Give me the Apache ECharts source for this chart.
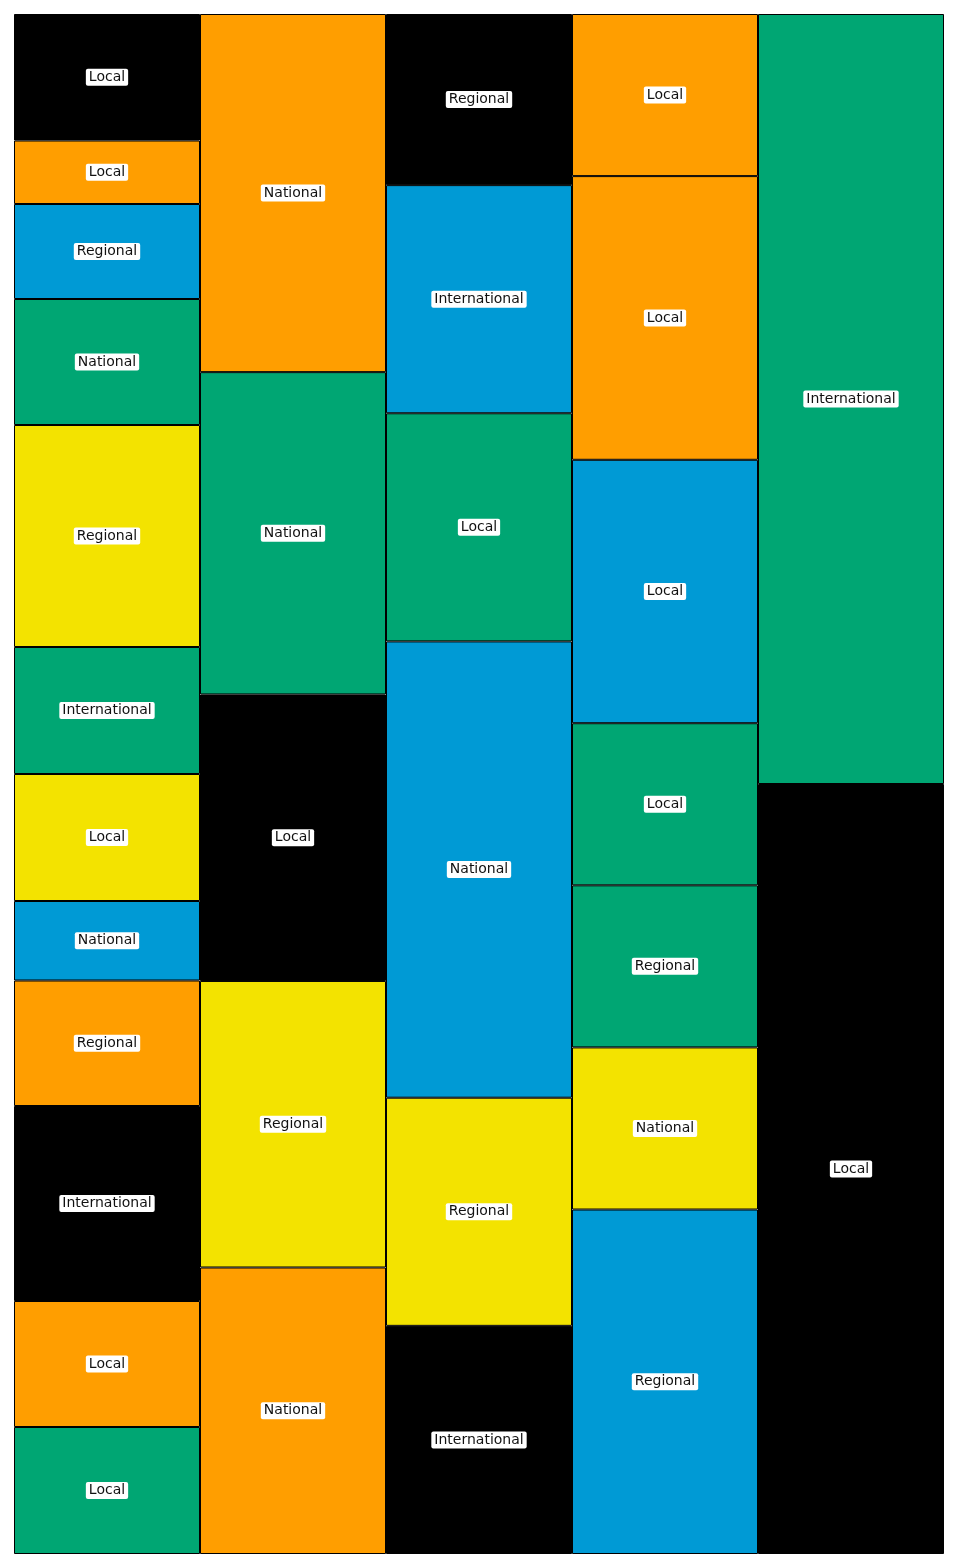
<!DOCTYPE html>
<html><head><meta charset="utf-8">
<script src="https://cdn.jsdelivr.net/npm/echarts@6/dist/echarts.min.js"></script>
<style>html,body{margin:0;padding:0;background:#fff}#c{width:957px;height:1567px}</style>
</head><body><div id="c"></div>
<script>
const categories = ['A', 'B', 'C', 'D', 'E'];
// segment values (top to bottom) per column
const col1Values = [126.5, 63.5, 95, 126, 222, 127, 127, 79.5, 125.5, 195, 126, 127];
const col2Values = [10, 9, 8, 8, 8];
const col3Values = [3, 4, 4, 8, 4, 4];
const col4Values = [8, 14, 13, 8, 8, 8, 17];
const col5Values = [1, 1];
const col1Labels = ['Local','Local','Regional','National','Regional','International','Local','National','Regional','International','Local','Local'];
const col2Labels = ['National','National','Local','Regional','National'];
const col3Labels = ['Regional','International','Local','National','Regional','International'];
const col4Labels = ['Local','Local','Local','Local','Regional','National','Regional'];
const col5Labels = ['International','Local'];
const col1Colors = ['k','o','b','g','y','g','y','b','o','k','o','g'];
const col2Colors = ['o','g','k','y','o'];
const col3Colors = ['k','b','g','b','y','k'];
const col4Colors = ['o','o','b','g','g','y','b'];
const col5Colors = ['g','k'];

const palette = {k:'#000000', o:'#FF9E00', b:'#009AD5', g:'#00A673', y:'#F3E300'};
const cols = [
  [col1Values, col1Labels, col1Colors],
  [col2Values, col2Labels, col2Colors],
  [col3Values, col3Labels, col3Colors],
  [col4Values, col4Labels, col4Colors],
  [col5Values, col5Labels, col5Colors]
];
const maxSeg = Math.max(...cols.map(c => c[0].length));
const series = [];
for (let s = 0; s < maxSeg; s++) {
  const data = cols.map(([vals, labs, cls]) => {
    if (s >= vals.length) return {value: 0, label: {show: false}, itemStyle: {borderWidth: 0}};
    const tot = vals.reduce((a, b) => a + b, 0);
    return {
      value: vals[s] / tot,
      name: labs[s],
      itemStyle: {color: palette[cls[s]]}
    };
  });
  series.push({
    type: 'bar', stack: 'all', barWidth: '100%', data,
    itemStyle: {borderColor: '#000', borderWidth: 1},
    label: {
      show: true, position: 'inside', formatter: p => p.data.name,
      color: '#111', fontFamily: 'DejaVu Sans', fontSize: 14, lineHeight: 15,
      backgroundColor: '#fff', padding: [1, 3, 1, 3], borderRadius: 2
    },
    emphasis: {disabled: true}, animation: false
  });
}
const chart = echarts.init(document.getElementById('c'));
chart.setOption({
  animation: false,
  grid: {left: 14, top: 14, width: 930, height: 1540},
  xAxis: {type: 'category', data: categories, show: false, boundaryGap: true},
  yAxis: {type: 'value', min: 0, max: 1, inverse: true, show: false},
  series
});
</script></body></html>
